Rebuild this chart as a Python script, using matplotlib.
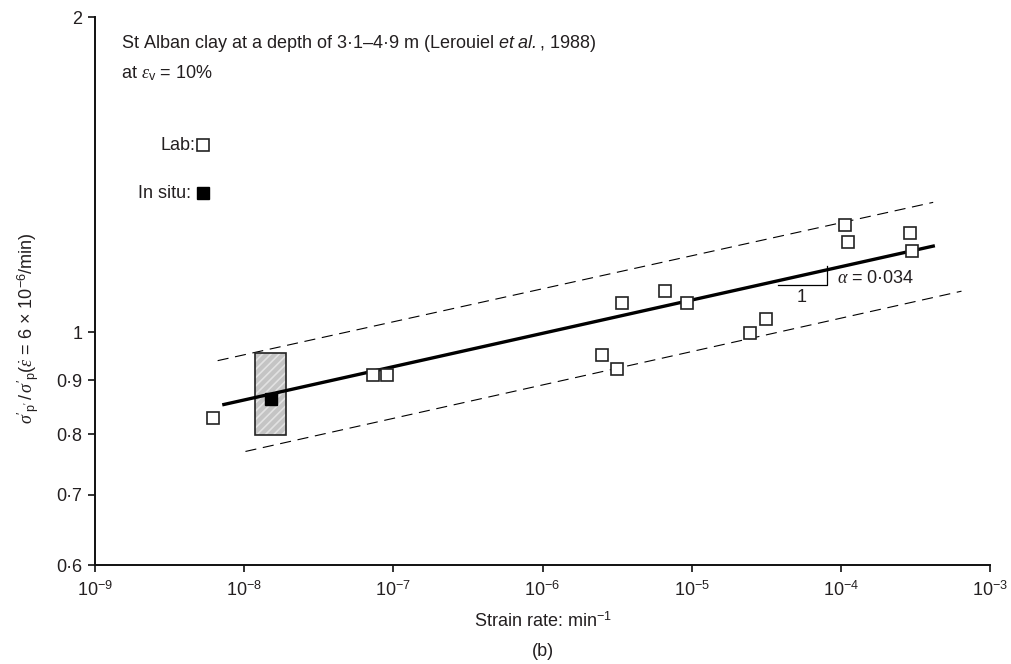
import numpy as np
import matplotlib
matplotlib.use('Agg')
import matplotlib.pyplot as plt
from matplotlib.ticker import FixedLocator, FixedFormatter, NullLocator

plt.rcParams['font.family'] = 'Liberation Sans'
plt.rcParams['font.size'] = 13
plt.rcParams['mathtext.fontset'] = 'custom'
plt.rcParams['mathtext.rm'] = 'Liberation Sans'
plt.rcParams['mathtext.it'] = 'Liberation Serif:italic'
plt.rcParams['mathtext.sf'] = 'Liberation Sans:italic'
plt.rcParams['hatch.linewidth'] = 1.2

text_color = '#231f20'

# Lab tests (open squares)
lab_rate = [6.21e-9, 7.33e-8, 9.02e-8, 2.49e-6, 3.18e-6, 3.39e-6, 6.64e-6,
            9.29e-6, 2.45e-5, 3.13e-5, 1.07e-4, 1.12e-4, 2.90e-4, 3.01e-4]
lab_ratio = [0.828, 0.910, 0.911, 0.951, 0.922, 1.067, 1.096,
             1.067, 0.998, 1.031, 1.266, 1.219, 1.245, 1.196]

# In situ value and its range (hatched box)
insitu_rate = [1.51e-8]
insitu_ratio = [0.864]
insitu_rate_range = [1.18e-8, 1.91e-8]
insitu_ratio_range = [0.798, 0.956]

# Fitted line and bounds
fit_rate = [7.13e-9, 4.27e-4]
fit_ratio = [0.853, 1.21]
upper_rate = [6.64e-9, 4.16e-4]
upper_ratio = [0.940, 1.331]
lower_rate = [1.02e-8, 6.44e-4]
lower_ratio = [0.770, 1.095]

# Slope triangle
tri_rate = [3.77e-5, 8.02e-5, 8.02e-5]
tri_ratio = [1.109, 1.109, 1.158]

x_ticks = [1e-9, 1e-8, 1e-7, 1e-6, 1e-5, 1e-4, 1e-3]
x_ticklabels = [r'$10^{-9}$', r'$10^{-8}$', r'$10^{-7}$', r'$10^{-6}$',
                r'$10^{-5}$', r'$10^{-4}$', r'$10^{-3}$']
y_ticks = [0.6, 0.7, 0.8, 0.9, 1, 2]
y_ticklabels = ['0·6', '0·7', '0·8', '0·9', '1', '2']

fig = plt.figure(figsize=(10.12, 6.64), dpi=100)
W, H = 1012, 664
ax_l, ax_r, ax_t, ax_b = 95, 990, 17, 565
ax = fig.add_axes([ax_l / W, 1 - ax_b / H, (ax_r - ax_l) / W, (ax_b - ax_t) / H])

ax.set_xscale('log')
ax.set_yscale('log')
ax.set_xlim(1e-9, 1e-3)
ax.set_ylim(0.6, 2)

# hatched in-situ range
x0, x1 = insitu_rate_range
y0, y1 = insitu_ratio_range
ax.fill([x0, x1, x1, x0], [y0, y0, y1, y1], facecolor='#c4c4c4',
        edgecolor='#e2e2e2', hatch='////', linewidth=0, zorder=2)
ax.fill([x0, x1, x1, x0], [y0, y0, y1, y1], facecolor='none',
        edgecolor='#222222', linewidth=1.2, zorder=3)

ax.plot(upper_rate, upper_ratio, color='black', lw=0.8, dashes=(10, 6), zorder=2)
ax.plot(lower_rate, lower_ratio, color='black', lw=0.8, dashes=(10, 6), zorder=2)
ax.plot(fit_rate, fit_ratio, color='black', lw=2.4, solid_capstyle='butt', zorder=4)
ax.plot(tri_rate, tri_ratio, color='black', lw=0.9, zorder=4)

ax.plot(lab_rate, lab_ratio, 's', ms=8.8, mfc='white', mec='#222222', mew=1.2,
        linestyle='none', zorder=5)
ax.plot(insitu_rate, insitu_ratio, 's', ms=8.8, mfc='black', mec='black', mew=1.0,
        linestyle='none', zorder=6)

ax.text(9.4e-5, 1.127, r'$\alpha$ = 0·034', ha='left', va='center', color=text_color)
ax.text(5.45e-5, 1.079, '1', ha='center', va='center', color=text_color)

# header text and legend
def axx(px):
    return (px - ax_l) / (ax_r - ax_l)

def axy(py):
    return (ax_b - py) / (ax_b - ax_t)

ax.text(axx(121), axy(44), r'St Alban clay at a depth of 3·1–4·9 m (Lerouiel $\mathsf{et\ al.}$, 1988)',
        transform=ax.transAxes, ha='left', va='center', color=text_color)
ax.text(axx(121), axy(73), r'at $\varepsilon_{\rm v}$ = 10%',
        transform=ax.transAxes, ha='left', va='center', color=text_color)
ax.text(axx(195), axy(145), 'Lab:', transform=ax.transAxes, ha='right', va='center',
        color=text_color)
ax.text(axx(191), axy(193), 'In situ:', transform=ax.transAxes, ha='right', va='center',
        color=text_color)
ax.plot([axx(203)], [axy(145)], 's', ms=8.8, mfc='white', mec='#222222', mew=1.2,
        transform=ax.transAxes, clip_on=False)
ax.plot([axx(203)], [axy(193)], 's', ms=8.8, mfc='black', mec='black',
        transform=ax.transAxes, clip_on=False)

# axes styling
for side in ['top', 'right']:
    ax.spines[side].set_visible(False)
for side in ['left', 'bottom']:
    ax.spines[side].set_linewidth(1.4)
    ax.spines[side].set_color('#111111')

ax.xaxis.set_major_locator(FixedLocator(x_ticks))
ax.xaxis.set_major_formatter(FixedFormatter(x_ticklabels))
ax.xaxis.set_minor_locator(NullLocator())
ax.yaxis.set_major_locator(FixedLocator(y_ticks))
ax.yaxis.set_major_formatter(FixedFormatter(y_ticklabels))
ax.yaxis.set_minor_locator(NullLocator())
ax.tick_params(axis='both', direction='out', length=5, width=1.2, color='#111111',
               labelcolor=text_color, labelsize=13)
ax.tick_params(axis='x', pad=6)
ax.tick_params(axis='y', pad=4)

fig.text(28 / W, 1 - 328 / H,
         r"$\sigma'_{\rm p'}\,/\,\sigma'_{\rm p}(\dot{\varepsilon}$ = 6 $\times$ 10$^{-6}$/min)",
         rotation=90, ha='center', va='center', color=text_color)
fig.text((ax_l + ax_r) / 2 / W, 1 - 621 / H, r'Strain rate: min$^{-1}$',
         ha='center', va='center', color=text_color)
fig.text((ax_l + ax_r) / 2 / W, 1 - 651 / H, '(b)', ha='center', va='center',
         color=text_color)

fig.savefig('out.png', dpi=100)
